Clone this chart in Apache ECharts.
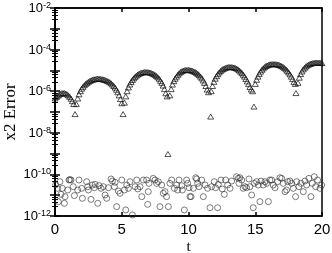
<!DOCTYPE html>
<html><head><meta charset="utf-8">
<script src="https://cdn.jsdelivr.net/npm/echarts@6/dist/echarts.min.js"></script>
<style>html,body{margin:0;padding:0;background:#fff}#c{width:332px;height:253px}</style>
</head><body><div id="c"></div><script>
// x axis ticks
const xTicks = [0, 5, 10, 15, 20];
// y axis: decades shown with labels (exponents of 10)
const yLabelExps = [-12, -10, -8, -6, -4, -2];
// Triangle series: [t, log10(error)]
const triangles = [
[0,-6.35],[0.1,-6.28],[0.2,-6.22],[0.3,-6.17],[0.4,-6.13],[0.5,-6.10],[0.6,-6.09],[0.7,-6.09],[0.8,-6.11],[0.9,-6.15],[1.0,-6.20],[1.1,-6.27],[1.2,-6.36],[1.3,-6.48],[1.4,-6.62],
[1.5,-7.10],
[1.6,-6.62],[1.7,-6.35],[1.8,-6.15],[1.9,-6.00],[2.0,-5.88],[2.1,-5.79],[2.2,-5.71],[2.3,-5.65],[2.4,-5.60],[2.5,-5.55],[2.6,-5.51],[2.7,-5.48],[2.8,-5.45],[2.9,-5.43],[3.0,-5.42],[3.1,-5.41],[3.2,-5.40],[3.3,-5.40],[3.4,-5.41],[3.5,-5.42],[3.6,-5.43],[3.7,-5.45],[3.8,-5.47],[3.9,-5.50],[4.0,-5.53],[4.1,-5.57],[4.2,-5.62],[4.3,-5.68],[4.4,-5.75],[4.5,-5.83],[4.6,-5.93],[4.7,-6.05],[4.8,-6.20],[4.9,-6.38],[5.0,-6.58],
[5.1,-7.10],
[5.2,-6.55],[5.3,-6.25],[5.4,-6.00],[5.5,-5.82],[5.6,-5.68],[5.7,-5.56],[5.8,-5.46],[5.9,-5.38],[6.0,-5.31],[6.1,-5.25],[6.2,-5.20],[6.3,-5.16],[6.4,-5.13],[6.5,-5.11],[6.6,-5.09],[6.7,-5.08],[6.8,-5.08],[6.9,-5.08],[7.0,-5.09],[7.1,-5.10],[7.2,-5.12],[7.3,-5.15],[7.4,-5.18],[7.5,-5.22],[7.6,-5.27],[7.7,-5.33],[7.8,-5.40],[7.9,-5.50],[8.0,-5.60],[8.1,-5.73],[8.2,-5.90],[8.3,-6.10],[8.4,-6.25],
[8.46,-9.02],
[8.6,-6.20],[8.7,-5.90],[8.8,-5.68],[8.9,-5.52],[9.0,-5.40],[9.1,-5.30],[9.2,-5.21],[9.3,-5.14],[9.4,-5.08],[9.5,-5.04],[9.6,-5.01],[9.7,-4.99],[9.8,-4.98],[9.9,-4.98],[10.0,-4.98],[10.1,-4.99],[10.2,-5.00],[10.3,-5.02],[10.4,-5.05],[10.5,-5.08],[10.6,-5.12],[10.7,-5.17],[10.8,-5.23],[10.9,-5.30],[11.0,-5.38],[11.1,-5.48],[11.2,-5.60],[11.3,-5.75],[11.4,-5.92],[11.5,-6.05],
[11.66,-7.22],[11.7,-6.00],
[11.8,-5.75],[11.9,-5.55],[12.0,-5.40],[12.1,-5.28],[12.2,-5.18],[12.3,-5.10],[12.4,-5.03],[12.5,-4.97],[12.6,-4.93],[12.7,-4.90],[12.8,-4.87],[12.9,-4.85],[13.0,-4.84],[13.1,-4.84],[13.2,-4.84],[13.3,-4.85],[13.4,-4.86],[13.5,-4.88],[13.6,-4.91],[13.7,-4.95],[13.8,-5.00],[13.9,-5.06],[14.0,-5.13],[14.1,-5.21],[14.2,-5.30],[14.3,-5.41],[14.4,-5.53],[14.5,-5.66],[14.6,-5.80],[14.7,-5.92],
[14.8,-6.00],[14.9,-6.74],
[15.0,-5.65],[15.1,-5.45],[15.2,-5.30],[15.3,-5.17],[15.4,-5.06],[15.5,-4.97],[15.6,-4.90],[15.7,-4.84],[15.8,-4.79],[15.9,-4.76],[16.0,-4.73],[16.1,-4.71],[16.2,-4.70],[16.3,-4.70],[16.4,-4.70],[16.5,-4.70],[16.6,-4.71],[16.7,-4.72],[16.8,-4.74],[16.9,-4.77],[17.0,-4.80],[17.1,-4.84],[17.2,-4.89],[17.3,-4.95],[17.4,-5.02],[17.5,-5.10],[17.6,-5.19],[17.7,-5.30],[17.8,-5.42],[17.9,-5.55],[18.0,-5.65],
[18.05,-6.09],[18.2,-5.60],
[18.3,-5.35],[18.4,-5.18],[18.5,-5.05],[18.6,-4.95],[18.7,-4.87],[18.8,-4.81],[18.9,-4.76],[19.0,-4.72],[19.1,-4.69],[19.2,-4.67],[19.3,-4.65],[19.4,-4.64],[19.5,-4.63],[19.6,-4.63],[19.7,-4.63],[19.8,-4.63],[19.9,-4.64],[20.0,-4.65]
];
// Circle series: [t, log10(error)]
const circles = [
[0.05,-10.5],[0.2,-10.67],[0.25,-11.31],[0.37,-10.35],[0.45,-10.96],[0.55,-10.67],[0.7,-11.39],[0.75,-11.07],[0.95,-10.75],[1.05,-10.27],[1.12,-10.25],[1.2,-10.27],[1.37,-10.59],[1.45,-11.02],[1.7,-10.75],[1.8,-10.27],[2.0,-10.67],[2.05,-11.15],[2.37,-10.35],[2.45,-10.59],[2.5,-10.75],[2.7,-11.2],[2.8,-10.51],[2.95,-10.64],[3.0,-10.48],[3.2,-11.39],[3.3,-10.54],[3.45,-10.67],[3.62,-10.59],[3.75,-10.99],[3.87,-11.15],[4.0,-10.64],[4.2,-10.22],[4.3,-10.32],[4.45,-10.59],[4.5,-10.38],[4.62,-11.55],[4.75,-10.8],[4.87,-10.91],[5.0,-10.27],[5.2,-10.75],[5.3,-11.71],[5.37,-10.51],[5.5,-10.67],[5.62,-10.35],[5.8,-11.95],[6.0,-10.59],[6.12,-10.27],[6.2,-10.7],[6.37,-10.59],[6.5,-11.07],[6.62,-10.27],
[6.86,-10.27],[6.99,-10.83],[7.04,-10.43],[6.94,-11.44],[7.36,-10.19],[7.49,-10.27],[7.61,-10.43],[7.74,-10.35],[7.86,-11.55],[7.99,-10.51],[8.11,-10.91],[8.24,-10.83],[8.36,-11.07],[8.49,-11.55],[8.61,-10.43],[8.74,-10.27],[8.94,-10.67],[9.11,-10.51],[9.19,-10.75],[9.29,-10.27],[9.49,-10.54],[9.54,-10.75],[9.69,-11.71],[9.86,-10.27],[9.94,-10.43],[10.04,-10.64],[10.11,-11.07],[10.19,-11.07],[10.36,-10.67],[10.54,-10.16],[10.61,-10.22],[10.69,-10.43],[10.79,-10.59],[10.99,-10.27],[11.11,-11.07],[11.24,-10.51],[11.43,-10.67],[11.61,-11.6],[11.73,-10.59],[11.93,-10.35],[12.03,-10.64],[12.18,-11.6],[12.23,-10.48],[12.43,-10.27],[12.53,-10.7],[12.68,-10.96],[12.78,-10.27],[12.93,-10.51],[13.11,-10.67],[13.23,-10.32],
[13.6,-10.11],[13.73,-10.19],[13.85,-10.16],[13.78,-10.43],[13.98,-10.27],[14.1,-10.67],[14.23,-10.59],[14.35,-10.64],[14.53,-10.22],[14.6,-10.59],[14.73,-10.99],[14.85,-11.6],[14.93,-10.43],[15.1,-10.35],[15.23,-10.51],[15.35,-11.31],[15.43,-10.32],[15.6,-10.51],[15.73,-10.35],[15.85,-10.43],[15.98,-11.31],[16.1,-10.27],[16.23,-10.27],[16.35,-10.51],[16.48,-10.64],[16.68,-10.35],[16.85,-10.16],[16.98,-10.19],[17.1,-10.43],[17.23,-10.83],[17.35,-10.75],[17.43,-10.35],[17.6,-10.32],[17.73,-10.43],[17.85,-10.67],[18.02,-11.07],[18.1,-10.35],[18.27,-10.59],[18.42,-10.43],[18.6,-10.83],[18.72,-10.32],[18.85,-10.51],[19.02,-10.19],[19.17,-11.07],[19.27,-10.43],[19.42,-10.11],[19.52,-10.59],[19.67,-10.27],[19.85,-10.67],[19.97,-10.51]
];

const toPoints = arr => arr.map(p => [p[0], Math.pow(10, p[1])]);
const chart = echarts.init(document.getElementById('c'), null, {renderer: 'canvas'});
const sans = 'Liberation Sans';
const serif = 'Liberation Serif';
const yFmt = v => {
  const e = Math.round(Math.log10(v));
  return yLabelExps.indexOf(e) >= 0 ? '{b|10}{s|' + e + '}' : '';
};
const yRich = {
  b: {fontFamily: sans, fontSize: 13, color: '#000', verticalAlign: 'bottom', lineHeight: 14},
  s: {fontFamily: sans, fontSize: 9, color: '#000', verticalAlign: 'top', padding: [0, 0, 9, 0], lineHeight: 14}
};
chart.setOption({
  animation: false,
  backgroundColor: '#fff',
  grid: {left: 55, right: 10, top: 8, bottom: 37, containLabel: false, outerBoundsMode: 'none', show: true, borderColor: '#000', borderWidth: 1.5, backgroundColor: 'transparent'},
  xAxis: [{
    type: 'value', min: xTicks[0], max: xTicks[xTicks.length - 1], interval: 5,
    name: 't', nameLocation: 'middle', nameGap: 24, nameMoveOverlap: false,
    nameTextStyle: {fontFamily: serif, fontSize: 15, color: '#000'},
    axisLine: {show: true, lineStyle: {color: '#000', width: 1.5}},
    axisTick: {inside: true, length: 4, lineStyle: {color: '#000', width: 1.5}},
    axisLabel: {fontFamily: sans, fontSize: 15, color: '#000', margin: 6},
    splitLine: {show: false}
  }, {
    type: 'value', position: 'top', min: xTicks[0], max: xTicks[xTicks.length - 1], interval: 5,
    axisLine: {show: true, lineStyle: {color: '#000', width: 1.5}},
    axisTick: {inside: true, length: 4, lineStyle: {color: '#000', width: 1.5}},
    axisLabel: {show: false}, splitLine: {show: false}
  }],
  yAxis: [{
    type: 'log', logBase: 10, min: 1e-12, max: 1e-2, interval: 1,
    name: 'x2 Error', nameLocation: 'middle', nameGap: 36, nameRotate: 90, nameMoveOverlap: false,
    nameTextStyle: {fontFamily: serif, fontSize: 17, color: '#000'},
    axisLine: {show: true, lineStyle: {color: '#000', width: 1.5}},
    axisTick: {inside: true, length: 5, lineStyle: {color: '#000', width: 1.5}},
    minorTick: {show: true, splitNumber: 5, length: 3, lineStyle: {color: '#000', width: 1}},
    axisLabel: {formatter: yFmt, rich: yRich, margin: 4},
    splitLine: {show: false}
  }, {
    type: 'log', logBase: 10, min: 1e-12, max: 1e-2, interval: 1, position: 'right',
    axisLine: {show: true, lineStyle: {color: '#000', width: 1.5}},
    axisTick: {inside: true, length: 5, lineStyle: {color: '#000', width: 1.5}},
    minorTick: {show: true, splitNumber: 5, length: 3, lineStyle: {color: '#000', width: 1}},
    axisLabel: {show: false}, splitLine: {show: false}
  }],
  series: [{
    type: 'scatter', name: 'triangles', symbol: 'triangle', symbolSize: [6, 5],
    data: toPoints(triangles),
    itemStyle: {color: 'rgba(0,0,0,0)', borderColor: '#111', borderWidth: 0.9}
  }, {
    type: 'scatter', name: 'circles', symbol: 'circle', symbolSize: 6,
    data: toPoints(circles),
    itemStyle: {color: 'rgba(0,0,0,0)', borderColor: '#333', borderWidth: 0.8}
  }]
});
</script></body></html>
